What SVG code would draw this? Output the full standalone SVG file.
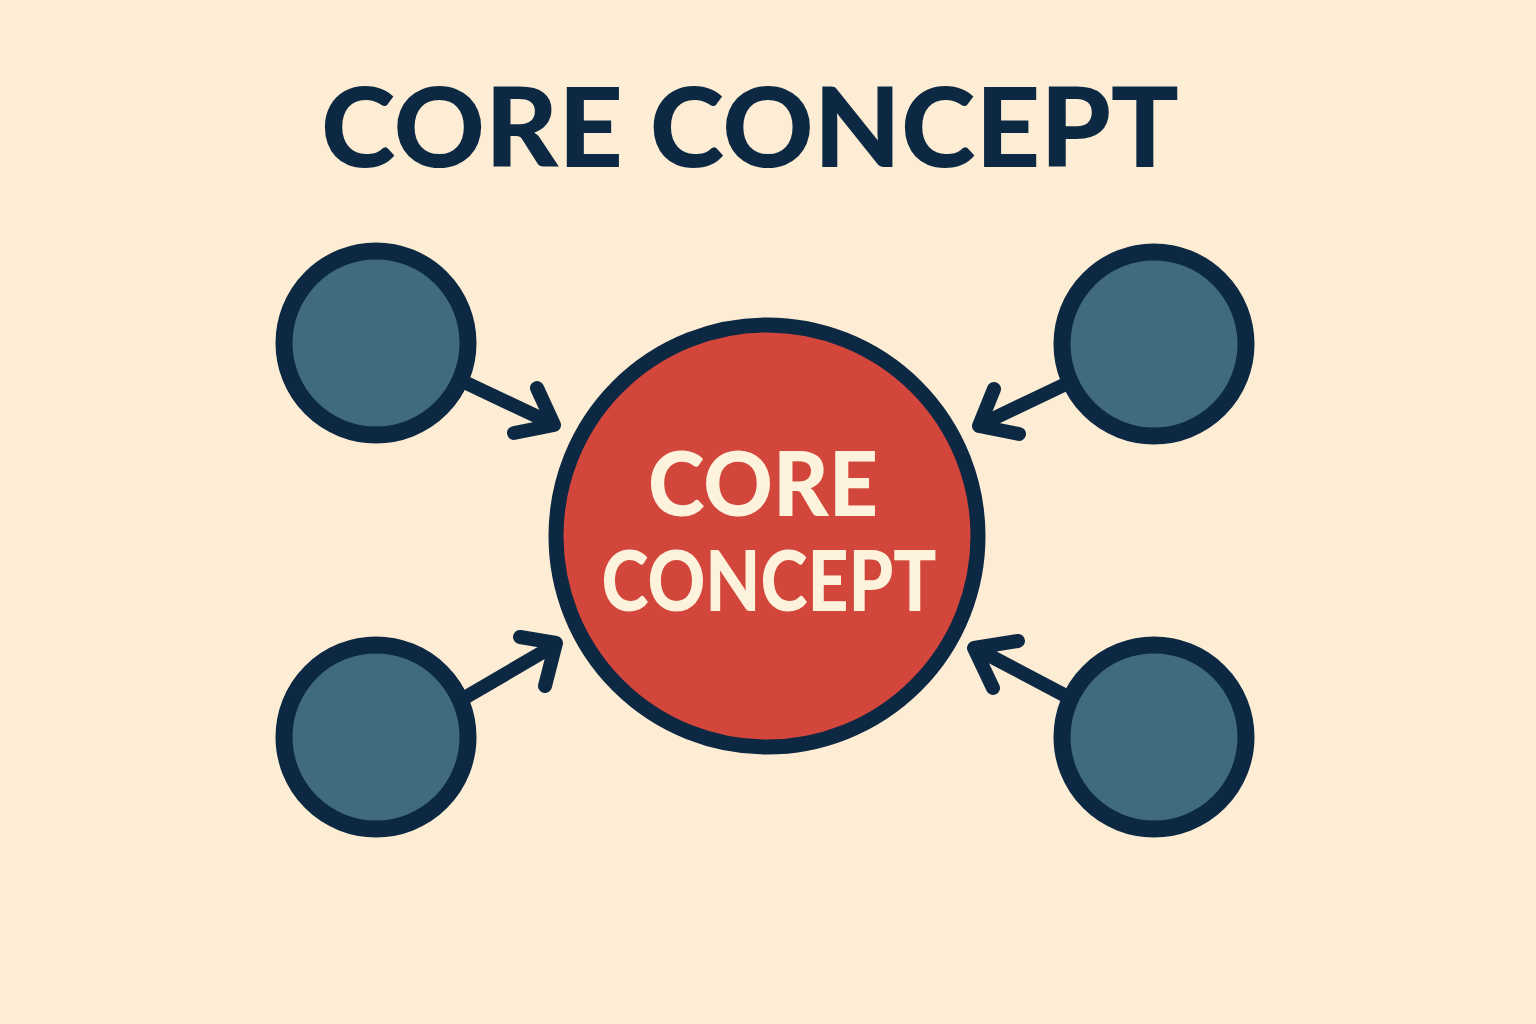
<svg xmlns="http://www.w3.org/2000/svg" width="1536" height="1024" viewBox="0 0 1536 1024">
<style>
.sat{fill:#3f6a80;stroke:#0c2842;stroke-width:17}
.core{fill:#d2463c;stroke:#0c2842;stroke-width:15}
.conn{fill:none;stroke:#0c2842;stroke-width:14;stroke-linecap:round;stroke-linejoin:round}
.title{font-family:Lato,"Liberation Sans",Arial,sans-serif;font-weight:900;fill:#0c2842}
.label{font-family:Lato,"Liberation Sans",Arial,sans-serif;font-weight:900;fill:#fdf3dc}
</style>
<rect width="1536" height="1024" fill="#fcedd4"/>
<text class="title" x="750" y="167" font-size="110" text-anchor="middle" textLength="858" lengthAdjust="spacingAndGlyphs">CORE CONCEPT</text>
<g id="connectors">
<path class="conn" d="M462,381 L553,424 M537,388 L554,425 L514,433"/>
<path class="conn" d="M1068,383 L980,425 M994,389 L979,426 L1019,434"/>
<path class="conn" d="M466,697 L555,645 M520,637 L556,643 L545,686"/>
<path class="conn" d="M1066,696 L975,648 M1018,641 L974,648 L993,688"/>
</g>
<g id="node-core">
<circle class="core" cx="767" cy="536" r="211"/>
<text class="label" x="763" y="516" font-size="90" text-anchor="middle" textLength="230" lengthAdjust="spacingAndGlyphs">CORE</text>
<text class="label" x="769" y="611" font-size="83" text-anchor="middle" textLength="335" lengthAdjust="spacingAndGlyphs">CONCEPT</text>
</g>
<g id="node-tl"><circle class="sat" cx="376" cy="343" r="92"/></g>
<g id="node-tr"><circle class="sat" cx="1154" cy="344" r="92"/></g>
<g id="node-bl"><circle class="sat" cx="376" cy="737" r="92"/></g>
<g id="node-br"><circle class="sat" cx="1154" cy="737" r="92"/></g>
</svg>
